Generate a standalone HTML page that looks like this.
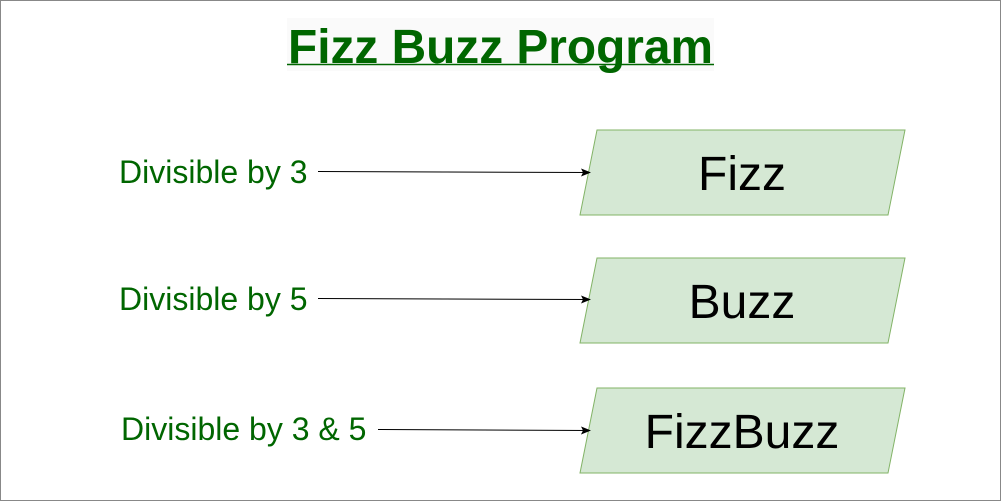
<!DOCTYPE html>
<html><head><style>body{margin:0}svg{display:block}</style></head><body>
<svg width="1001" height="501" xmlns="http://www.w3.org/2000/svg" font-family="Liberation Sans, sans-serif">
<rect x="0.5" y="0.5" width="1000" height="500" fill="#fff" stroke="#888"/>
<rect x="287" y="18" width="427" height="53" fill="#fafafa"/>
<text x="500.5" y="63" text-anchor="middle" font-size="48" font-weight="bold" fill="#006600" textLength="425" lengthAdjust="spacingAndGlyphs">Fizz Buzz Program</text>
<line x1="287" y1="64.5" x2="714" y2="64.5" stroke="#006600" stroke-width="1.5"/>
<defs><marker id="a" markerWidth="10" markerHeight="8" refX="9" refY="4" orient="auto" markerUnits="userSpaceOnUse"><path d="M0,0 L10,4 L0,8 L2,4z" fill="#000"/></marker></defs>
<g fill="#d5e8d4" stroke="#82b366">
<polygon points="597,130 905,130 888,215 580,215"/>
<polygon points="597,258 905,258 888,343 580,343"/>
<polygon points="597,388 905,388 888,473 580,473"/>
</g>
<g font-size="48" text-anchor="middle" fill="#000">
<text x="742" y="190">Fizz</text>
<text x="742" y="318">Buzz</text>
<text x="742" y="448">FizzBuzz</text>
</g>
<g font-size="32" fill="#006600">
<text x="119" y="183">Divisible by 3</text>
<text x="119" y="310">Divisible by 5</text>
<text x="121" y="440">Divisible by 3 &amp; 5</text>
</g>
<g stroke="#000" stroke-width="1" marker-end="url(#a)">
<line x1="318" y1="171.5" x2="590" y2="172.5"/>
<line x1="318" y1="298.5" x2="590" y2="299.5"/>
<line x1="378" y1="429.5" x2="590" y2="430.5"/>
</g>
</svg>
</body></html>
